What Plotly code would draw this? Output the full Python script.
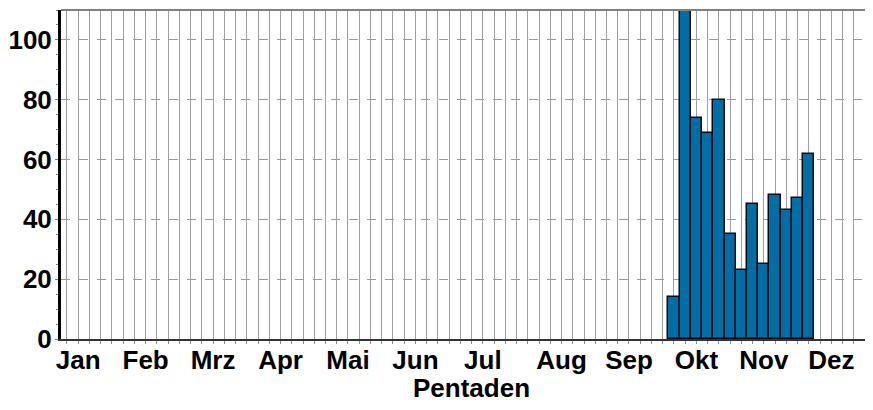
import plotly.graph_objects as go

# Data: pentad number (1..73) and counts
pentads = [55, 56, 57, 58, 59, 60, 61, 62, 63, 64, 65, 66, 67]
counts = [14, 118, 74, 69, 80, 35, 23, 45, 25, 48, 43, 47, 62]

month_labels = ["Jan", "Feb", "Mrz", "Apr", "Mai", "Jun",
                "Jul", "Aug", "Sep", "Okt", "Nov", "Dez"]
month_pentads = [2, 8, 14, 20, 26, 32, 38, 45, 51, 57, 63, 69]

y_ticks = [0, 20, 40, 60, 80, 100]

font_bold = dict(family="Liberation Sans, Arial, sans-serif", size=26,
                 color="black", weight="bold")

fig = go.Figure()
fig.add_trace(go.Bar(
    x=pentads, y=counts, width=1,
    marker=dict(color="#006ea6", line=dict(color="#0a0a0a", width=1.5)),
    showlegend=False,
))

fig.update_layout(
    width=865, height=402,
    margin=dict(l=53, r=0, t=2, b=71, autoexpand=False),
    paper_bgcolor="white", plot_bgcolor="white",
    bargap=0,
    xaxis=dict(
        range=[0.47, 72.71], automargin=False,
        tickmode="array", tickvals=month_pentads, ticktext=month_labels,
        tickfont=font_bold, ticks="", showgrid=False, zeroline=False,
        showline=True, linecolor="#333333", linewidth=2,
        minor=dict(tick0=1, dtick=1, showgrid=True, gridcolor="#a0a0a0",
                   gridwidth=1, ticks="outside", ticklen=3, tickcolor="#909090"),
        ticklabelstandoff=-3,
    ),
    yaxis=dict(
        range=[0, 110], automargin=False,
        tickmode="array", tickvals=y_ticks,
        tickfont=font_bold,
        showgrid=True, gridcolor="#9a9a9a", griddash="dash", gridwidth=1,
        zeroline=False,
        showline=True, linecolor="black", linewidth=3,
        ticks="outside", ticklen=3, tickcolor="#808080",
        minor=dict(dtick=5, ticks="outside", ticklen=2, tickcolor="#808080",
                   showgrid=False),
        ticklabelstandoff=-2,
    ),
    shapes=[dict(type="line", xref="paper", yref="paper", x0=0, x1=1,
                 y0=1, y1=1, line=dict(color="#808080", width=2))],
    annotations=[dict(text="Pentaden", xref="paper", yref="paper",
                      x=0.506, y=-0.149, xanchor="center", yanchor="middle",
                      showarrow=False, font=font_bold)],
)

fig.write_html("out.html")
